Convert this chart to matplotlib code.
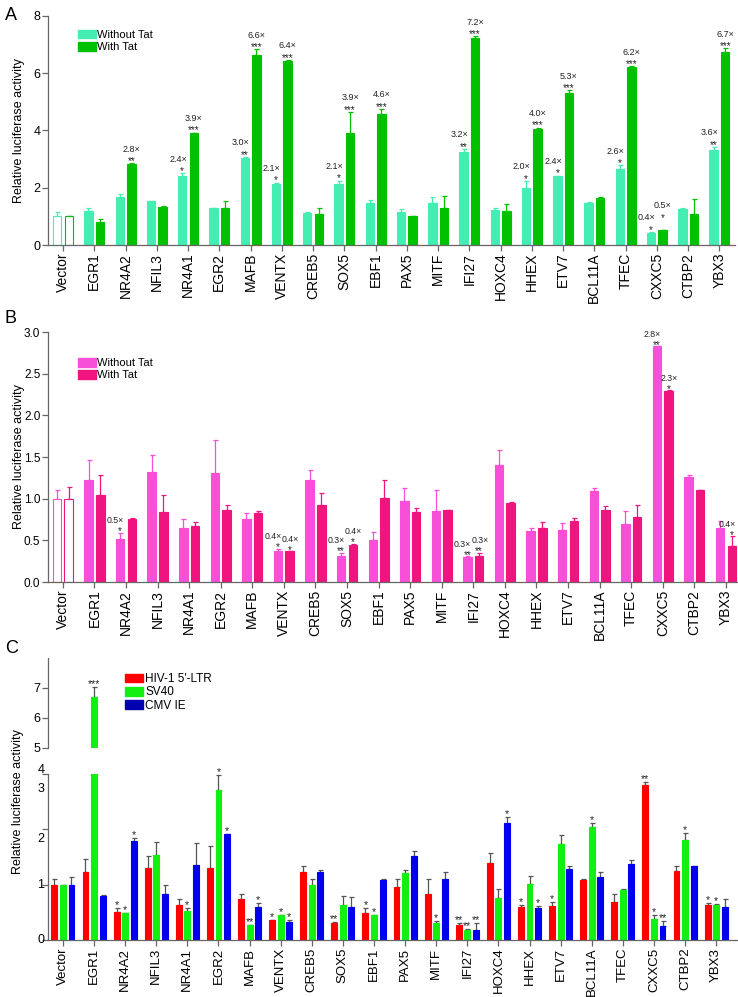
import numpy as np
import matplotlib.pyplot as plt

plt.rcParams['font.family'] = ['Liberation Sans', 'DejaVu Sans']

genes = ['Vector', 'EGR1', 'NR4A2', 'NFIL3', 'NR4A1', 'EGR2', 'MAFB', 'VENTX',
         'CREB5', 'SOX5', 'EBF1', 'PAX5', 'MITF', 'IFI27', 'HOXC4', 'HHEX',
         'ETV7', 'BCL11A', 'TFEC', 'CXXC5', 'CTBP2', 'YBX3']

# panel A: HIV-1 LTR, without / with Tat
a_without = [1.0, 1.2, 1.66, 1.54, 2.41, 1.30, 3.03, 2.14, 1.11, 2.14, 1.46,
             1.16, 1.46, 3.26, 1.22, 2.0, 2.40, 1.48, 2.65, 0.43, 1.25, 3.33]
a_without_err = [0.16, 0.08, 0.12, 0.01, 0.09, 0.01, 0.05, 0.04, 0.04, 0.11, 0.10,
                 0.10, 0.20, 0.09, 0.08, 0.24, 0.02, 0.01, 0.13, 0.02, 0.05, 0.09]
a_with = [1.0, 0.81, 2.83, 1.32, 3.9, 1.28, 6.65, 6.44, 1.07, 3.9, 4.59,
          1.0, 1.30, 7.22, 1.2, 4.06, 5.32, 1.63, 6.22, 0.52, 1.08, 6.73]
a_with_err = [0.01, 0.10, 0.02, 0.04, 0.02, 0.27, 0.18, 0.02, 0.21, 0.74, 0.16,
              0.01, 0.40, 0.07, 0.22, 0.04, 0.08, 0.03, 0.02, 0.01, 0.51, 0.14]
a_without_fold = ['', '', '', '', '2.4×', '', '3.0×', '2.1×', '', '2.1×', '',
                  '', '', '3.2×', '', '2.0×', '2.4×', '', '2.6×', '0.4×', '', '3.6×']
a_without_sig = ['', '', '', '', '*', '', '**', '*', '', '*', '',
                 '', '', '**', '', '*', '*', '', '*', '*', '', '**']
a_with_fold = ['', '', '2.8×', '', '3.9×', '', '6.6×', '6.4×', '', '3.9×', '4.6×',
               '', '', '7.2×', '', '4.0×', '5.3×', '', '6.2×', '0.5×', '', '6.7×']
a_with_sig = ['', '', '**', '', '***', '', '***', '***', '', '***', '***',
              '', '', '***', '', '***', '***', '', '***', '*', '', '***']

# panel B
b_without = [1.0, 1.23, 0.52, 1.32, 0.65, 1.31, 0.76, 0.37, 1.23, 0.31, 0.51,
             0.97, 0.85, 0.30, 1.40, 0.61, 0.63, 1.09, 0.70, 2.83, 1.26, 0.65]
b_without_err = [0.10, 0.24, 0.07, 0.21, 0.11, 0.40, 0.07, 0.03, 0.11, 0.04, 0.09,
                 0.16, 0.26, 0.01, 0.18, 0.04, 0.08, 0.04, 0.15, 0.0, 0.02, 0.08]
b_with = [1.0, 1.04, 0.76, 0.84, 0.67, 0.87, 0.83, 0.37, 0.93, 0.44, 1.01,
          0.84, 0.86, 0.31, 0.95, 0.65, 0.73, 0.86, 0.78, 2.29, 1.11, 0.43]
b_with_err = [0.14, 0.25, 0.01, 0.21, 0.05, 0.05, 0.02, 0.0, 0.14, 0.02, 0.21,
              0.05, 0.0, 0.04, 0.01, 0.07, 0.04, 0.05, 0.15, 0.01, 0.0, 0.12]
b_without_fold = ['', '', '0.5×', '', '', '', '', '0.4×', '', '0.3×', '',
                  '', '', '0.3×', '', '', '', '', '', '2.8×', '', '']
b_without_sig = ['', '', '*', '', '', '', '', '*', '', '**', '',
                 '', '', '**', '', '', '', '', '', '**', '', '']
b_with_fold = ['', '', '', '', '', '', '', '0.4×', '', '0.4×', '',
               '', '', '0.3×', '', '', '', '', '', '2.3×', '', '0.4×']
b_with_sig = ['', '', '', '', '', '', '', '*', '', '*', '',
              '', '', '**', '', '', '', '', '', '*', '', '*']

# panel C
c_ltr = [1.0, 1.22, 0.51, 1.31, 0.64, 1.30, 0.75, 0.36, 1.22, 0.30, 0.49,
         0.96, 0.83, 0.28, 1.39, 0.60, 0.61, 1.08, 0.68, 2.81, 1.25, 0.64]
c_ltr_err = [0.10, 0.24, 0.07, 0.21, 0.11, 0.39, 0.08, 0.01, 0.11, 0.03, 0.09,
             0.15, 0.27, 0.02, 0.18, 0.04, 0.08, 0.03, 0.16, 0.05, 0.08, 0.02]
c_sv40 = [1.0, 6.7, 0.48, 1.54, 0.52, 2.71, 0.27, 0.45, 0.99, 0.63, 0.45,
          1.21, 0.30, 0.18, 0.76, 1.01, 1.73, 2.05, 0.90, 0.38, 1.81, 0.64]
c_sv40_err = [0.0, 0.33, 0.0, 0.24, 0.05, 0.27, 0.01, 0.0, 0.11, 0.17, 0.0,
              0.06, 0.04, 0.01, 0.16, 0.15, 0.16, 0.06, 0.02, 0.08, 0.12, 0.01]
c_cmv = [1.0, 0.80, 1.79, 0.84, 1.36, 1.92, 0.60, 0.32, 1.22, 0.60, 1.08,
         1.52, 1.10, 0.18, 2.12, 0.58, 1.28, 1.14, 1.37, 0.26, 1.34, 0.60]
c_cmv_err = [0.13, 0.02, 0.05, 0.15, 0.40, 0.0, 0.06, 0.04, 0.05, 0.18, 0.03,
             0.08, 0.12, 0.12, 0.10, 0.04, 0.05, 0.09, 0.08, 0.08, 0.0, 0.15]
c_ltr_sig = ['', '', '*', '', '', '', '', '*', '', '**', '*',
             '', '', '**', '', '*', '*', '', '', '**', '', '*']
c_sv40_sig = ['', '***', '*', '', '*', '*', '**', '*', '', '', '*',
              '', '*', '**', '', '', '', '*', '', '*', '*', '*']
c_cmv_sig = ['', '', '*', '', '', '*', '*', '*', '', '', '',
             '', '', '**', '*', '*', '', '', '', '**', '', '']

W, H = 738, 997
fig = plt.figure(figsize=(W / 100, H / 100), dpi=100)


def box(left, top, right, bottom):
    return [left / W, 1 - bottom / H, (right - left) / W, (bottom - top) / H]


def style(ax, xlim, xfs=10, yfs=9):
    for s in ['top', 'right']:
        ax.spines[s].set_visible(False)
    for s in ['left', 'bottom']:
        ax.spines[s].set_color('#666666')
        ax.spines[s].set_linewidth(0.9)
    ax.tick_params(colors='#666666', labelcolor='black', length=4, width=0.9)
    ax.tick_params(axis='y', labelsize=yfs, pad=1.5)
    ax.tick_params(axis='x', pad=1.5)
    ax.set_xlim(*xlim)
    ax.set_xticks(np.arange(len(genes)))
    ax.set_xticklabels(genes, rotation=90, fontsize=xfs)


def bars(ax, pos, vals, errs, color, ecolor, width, hollow=False):
    fc = [color] * len(vals)
    if hollow:
        fc[0] = 'white'
    ax.bar(pos, vals, width, color=fc, edgecolor=color, linewidth=0.8, zorder=2)
    ax.errorbar(pos, vals, yerr=[np.zeros(len(vals)), errs], fmt='none',
                ecolor=ecolor, elinewidth=0.9, capsize=1.8, capthick=0.9, zorder=1)


def labels(ax, pos, vals, errs, folds, sigs, fs_fold, fs_sig, d_sig, d_fold,
           xshift=0, lift=None):
    if lift is None:
        lift = [0] * len(vals)
    right = ax.get_xlim()[1]
    for x, v, e, f, s, up in zip(pos, vals, errs, folds, sigs, lift):
        top = v + e
        if s:
            ax.annotate(s, (x, top), xytext=(0, d_sig + up), textcoords='offset points',
                        ha='center', va='bottom', fontsize=fs_sig, color='#222222',
                        annotation_clip=False)
        if f:
            # keep a label at the right edge inside the figure
            if x + 0.3 > right:
                ha, dx = 'right', 3.0
            else:
                ha, dx = 'center', xshift
            ax.annotate(f, (x, top), xytext=(dx, d_fold + up), textcoords='offset points',
                        ha=ha, va='bottom', fontsize=fs_fold, color='#222222',
                        annotation_clip=False)


def close_lift(f1, v1, e1, f2, v2, e2, gap, amount):
    # raise the right-hand label when both labels of a pair sit at the same height
    return [amount if (a and b and abs((p + q) - (r + t)) < gap) else 0
            for a, p, q, b, r, t in zip(f1, v1, e1, f2, v2, e2)]


x = np.arange(len(genes))

# ---- A ----
axA = fig.add_axes(box(48, 16, 735, 245))
style(axA, (-0.48, 21.5))
axA.set_ylim(0, 8)
axA.set_yticks([0, 2, 4, 6, 8])
light_a, dark_a = '#44EEB2', '#00C000'
bars(axA, x - 0.185, a_without, a_without_err, light_a, light_a, 0.27, hollow=True)
bars(axA, x + 0.185, a_with, a_with_err, dark_a, dark_a, 0.27, hollow=True)
liftA = close_lift(a_without_fold, a_without, a_without_err,
                   a_with_fold, a_with, a_with_err, 0.5, 7)
labels(axA, x - 0.185, a_without, a_without_err, a_without_fold, a_without_sig,
       6.5, 7, -2, 7, xshift=-3)
labels(axA, x + 0.185, a_with, a_with_err, a_with_fold, a_with_sig,
       6.5, 7, -2, 7, lift=liftA)
axA.set_ylabel('Relative luciferase activity', fontsize=9)
axA.yaxis.set_label_coords(-23 / 687, 0.5)
hA = [plt.Rectangle((0, 0), 1, 1, color=light_a), plt.Rectangle((0, 0), 1, 1, color=dark_a)]
axA.legend(hA, ['Without Tat', 'With Tat'], loc='upper left', bbox_to_anchor=(0.0437, 0.94),
           frameon=False, fontsize=8, handlelength=1.6, handleheight=0.8, borderpad=0,
           handletextpad=0.1, labelspacing=0.2, borderaxespad=0)

# ---- B ----
axB = fig.add_axes(box(48, 332, 737, 582))
style(axB, (-0.47, 21.35), yfs=8.5)
axB.set_ylim(0, 3.0)
axB.set_yticks(np.arange(0, 3.01, 0.5))
axB.set_yticklabels(['%.1f' % t for t in np.arange(0, 3.01, 0.5)])
light_b, dark_b = '#F84FD8', '#F0147E'
bars(axB, x - 0.185, b_without, b_without_err, light_b, light_b, 0.27, hollow=True)
bars(axB, x + 0.185, b_with, b_with_err, dark_b, dark_b, 0.27, hollow=True)
labels(axB, x - 0.185, b_without, b_without_err, b_without_fold, b_without_sig,
       6.3, 7, -2.5, 5.5, xshift=-3.6)
labels(axB, x + 0.185, b_with, b_with_err, b_with_fold, b_with_sig,
       6.3, 7, -2.5, 5.5, xshift=0.6)
axB.set_ylabel('Relative luciferase activity', fontsize=9)
axB.yaxis.set_label_coords(-23 / 689, 0.5)
hB = [plt.Rectangle((0, 0), 1, 1, color=light_b), plt.Rectangle((0, 0), 1, 1, color=dark_b)]
axB.legend(hB, ['Without Tat', 'With Tat'], loc='upper left', bbox_to_anchor=(0.0437, 0.896),
           frameon=False, fontsize=8, handlelength=1.6, handleheight=0.8, borderpad=0,
           handletextpad=0.1, labelspacing=0.2, borderaxespad=0)

# ---- C (broken axis) ----
red, green, blue = '#FF0000', '#11F011', '#0000EE'
axC = fig.add_axes(box(48, 774, 737, 940))
axU = fig.add_axes(box(48, 658, 737, 748))
style(axC, (-0.48, 21.67), xfs=9.5)
axC.set_ylim(0, 3.0)
axC.set_yticks([0, 1, 2, 3])
axC.set_yticklabels([])
for val, txt in zip([0, 1, 1.82, 2.72, 3.07], ['0', '1', '2', '3', '4']):
    axC.text(-0.6, val, txt, ha='right', va='center', fontsize=9)
axU.set_xlim(axC.get_xlim())
axU.set_ylim(5, 8)
axU.set_yticks([5, 6, 7])
axU.set_xticks([])
for s in ['top', 'right', 'bottom']:
    axU.spines[s].set_visible(False)
axU.spines['left'].set_color('#666666')
axU.spines['left'].set_linewidth(0.9)
axU.tick_params(colors='#666666', labelcolor='black', length=4, width=0.9,
                labelsize=9, pad=1.5)
axU.patch.set_alpha(0)

groups = [(c_ltr, c_ltr_err, c_ltr_sig, red, -0.275),
          (c_sv40, c_sv40_err, c_sv40_sig, green, 0.0),
          (c_cmv, c_cmv_err, c_cmv_sig, blue, 0.275)]
for vals, errs, sigs, col, off in groups:
    for ax in (axC, axU):
        bars(ax, x + off, vals, errs, col, '#555555', 0.19)
    low = [s if v + e < 3 else '' for v, e, s in zip(vals, errs, sigs)]
    high = [s if v + e >= 3 else '' for v, e, s in zip(vals, errs, sigs)]
    blank = [''] * len(vals)
    labels(axC, x + off, vals, errs, blank, low, 6, 7.5, -1.5, 0)
    labels(axU, x + off, vals, errs, blank, high, 6, 7.5, -1.5, 0)

hC = [plt.Rectangle((0, 0), 1, 1, color=red), plt.Rectangle((0, 0), 1, 1, color=green),
      plt.Rectangle((0, 0), 1, 1, color='#0000B0')]
axU.legend(hC, ['HIV-1 5′-LTR', 'SV40', 'CMV IE'], loc='upper left',
           bbox_to_anchor=(0.112, 0.833), frameon=False, fontsize=8.5, handlelength=1.5,
           handleheight=0.75, handletextpad=0.2, labelspacing=0.12, borderpad=0,
           borderaxespad=0)
fig.text(18 / W, 1 - 802 / H, 'Relative luciferase activity', rotation=90,
         ha='center', va='center', fontsize=9)

for letter, yy in [('A', 15), ('B', 318), ('C', 648)]:
    fig.text(5 / W, 1 - yy / H, letter, fontsize=13, va='center', ha='left')

fig.savefig('out.png', dpi=100)
